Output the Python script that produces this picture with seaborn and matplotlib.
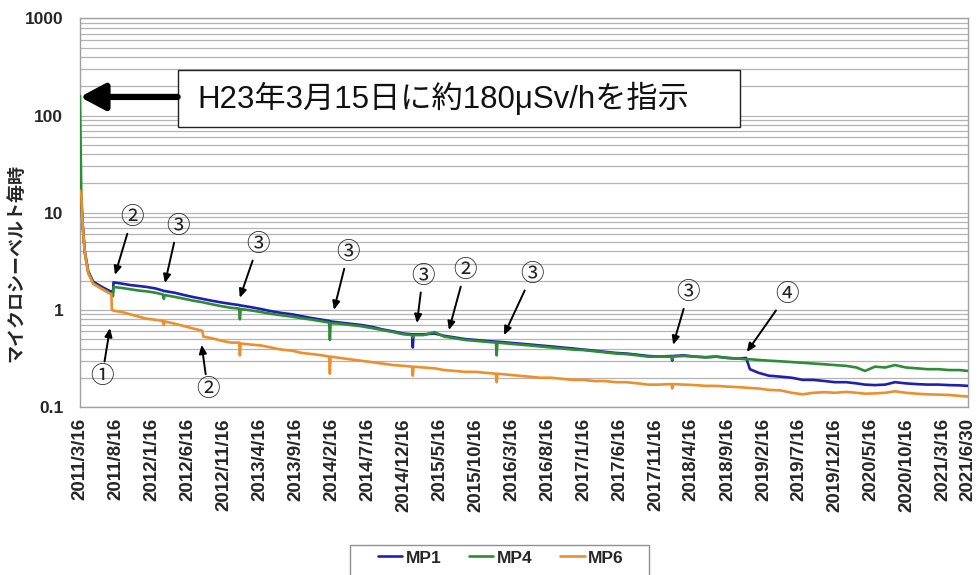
import pandas as pd
import numpy as np
import matplotlib
matplotlib.use("Agg")
import matplotlib.pyplot as plt
from matplotlib.patches import Rectangle
from matplotlib.ticker import LogLocator, NullFormatter
import seaborn as sns

# Set plot style
sns.set_theme(style="white")
plt.rcParams['font.family'] = ['Liberation Sans', 'Noto Sans CJK JP']
plt.rcParams['axes.unicode_minus'] = False

# --- data (μSv/h) ---
dates = [
    "2011-03-16", "2011-03-22", "2011-03-26", "2011-03-30", "2011-04-06", "2011-04-20",
    "2011-05-11", "2011-06-21", "2011-07-21", "2011-07-27", "2011-07-29", "2011-08-03",
    "2011-08-05", "2011-09-10", "2011-10-15", "2011-11-20", "2011-12-24", "2012-01-30",
    "2012-03-01", "2012-03-05", "2012-03-09",
    "2012-04-20", "2012-05-30", "2012-07-10", "2012-08-14", "2012-08-20", "2012-09-25",
    "2012-11-05", "2012-12-15", "2013-01-18", "2013-01-21", "2013-01-24",
    "2013-03-05", "2013-04-20", "2013-06-01", "2013-07-15", "2013-08-30", "2013-10-10",
    "2013-11-25", "2014-01-05", "2014-02-03", "2014-02-06", "2014-02-09",
    "2014-03-20", "2014-05-01", "2014-06-15", "2014-08-01", "2014-09-15", "2014-11-01",
    "2014-12-15", "2015-01-20", "2015-01-23", "2015-01-26",
    "2015-03-10", "2015-04-25", "2015-06-05", "2015-07-20", "2015-09-01", "2015-10-15",
    "2015-11-25", "2016-01-10", "2016-01-13", "2016-01-16",
    "2016-03-01", "2016-04-15", "2016-06-01", "2016-07-15", "2016-09-01", "2016-10-15",
    "2016-12-01", "2017-01-15", "2017-03-01", "2017-04-15", "2017-06-01", "2017-07-15",
    "2017-09-01", "2017-10-15", "2017-12-01",
    "2018-01-22", "2018-01-25", "2018-01-28", "2018-03-15", "2018-05-01", "2018-06-15",
    "2018-08-01", "2018-09-15", "2018-11-01", "2018-12-04", "2018-12-20",
    "2019-01-25", "2019-03-10", "2019-05-01", "2019-06-15", "2019-08-01", "2019-09-15",
    "2019-11-01", "2019-12-15",
    "2020-02-01", "2020-03-15", "2020-04-20", "2020-06-01", "2020-07-15", "2020-08-25",
    "2020-10-10", "2020-11-25", "2021-01-10", "2021-02-25", "2021-04-10", "2021-05-25",
    "2021-06-30",
]

mp1 = [
    17, 14, 8.5, 6.3, 3.9, 2.5, 1.95, 1.70, 1.56, 1.54, 1.53, 1.53,
    1.92, 1.86, 1.80, 1.76, 1.72, 1.66, 1.58, 1.56, 1.56,
    1.50, 1.42, 1.35, 1.30, 1.29, 1.24, 1.19, 1.15, 1.12, 1.11, 1.11,
    1.07, 1.02, 0.97, 0.93, 0.90, 0.86, 0.82, 0.79, 0.77, 0.76, 0.76,
    0.74, 0.72, 0.70, 0.67, 0.63, 0.60, 0.57, 0.56, 0.41, 0.56,
    0.56, 0.57, 0.54, 0.52, 0.50, 0.49, 0.48, 0.47, 0.46, 0.47,
    0.46, 0.45, 0.44, 0.43, 0.42, 0.41, 0.40, 0.39, 0.38, 0.37, 0.36, 0.355, 0.345, 0.335, 0.33,
    0.335, 0.30, 0.335, 0.34, 0.33, 0.325, 0.33, 0.32, 0.315, 0.32, 0.245,
    0.225, 0.21, 0.205, 0.20, 0.19, 0.19, 0.185, 0.18,
    0.18, 0.175, 0.17, 0.168, 0.17, 0.18, 0.175, 0.172, 0.17, 0.17, 0.168, 0.167, 0.165,
]

mp4 = [
    160, 13, 8.2, 6.0, 3.8, 2.4, 1.88, 1.63, 1.49, 1.47, 1.46, 1.38,
    1.72, 1.68, 1.63, 1.58, 1.55, 1.50, 1.44, 1.30, 1.42,
    1.36, 1.30, 1.24, 1.20, 1.19, 1.14, 1.09, 1.05, 1.03, 0.80, 1.02,
    0.99, 0.95, 0.91, 0.88, 0.85, 0.82, 0.79, 0.76, 0.74, 0.49, 0.73,
    0.72, 0.70, 0.68, 0.65, 0.62, 0.59, 0.56, 0.55, 0.52, 0.55,
    0.55, 0.59, 0.53, 0.51, 0.49, 0.48, 0.47, 0.46, 0.34, 0.46,
    0.45, 0.44, 0.43, 0.42, 0.41, 0.40, 0.39, 0.385, 0.375, 0.365, 0.355, 0.35, 0.34, 0.33, 0.33,
    0.33, 0.31, 0.33, 0.335, 0.33, 0.325, 0.33, 0.32, 0.315, 0.31, 0.31,
    0.305, 0.30, 0.295, 0.29, 0.285, 0.28, 0.275, 0.27,
    0.265, 0.255, 0.235, 0.26, 0.255, 0.27, 0.255, 0.25, 0.245, 0.245, 0.24, 0.24, 0.235,
]

mp6 = [
    17, 15, 8.3, 6.1, 3.8, 2.4, 1.85, 1.62, 1.47, 1.45, 1.0, 0.99,
    0.98, 0.95, 0.90, 0.85, 0.81, 0.79, 0.77, 0.70, 0.76,
    0.72, 0.68, 0.64, 0.61, 0.53, 0.51, 0.48, 0.46, 0.46, 0.34, 0.45,
    0.44, 0.43, 0.41, 0.39, 0.38, 0.36, 0.35, 0.34, 0.33, 0.22, 0.33,
    0.32, 0.31, 0.30, 0.29, 0.28, 0.27, 0.265, 0.26, 0.21, 0.26,
    0.255, 0.25, 0.24, 0.235, 0.23, 0.23, 0.225, 0.22, 0.18, 0.22,
    0.215, 0.21, 0.205, 0.20, 0.20, 0.195, 0.19, 0.19, 0.185, 0.185, 0.18, 0.18, 0.175, 0.17, 0.17,
    0.172, 0.155, 0.172, 0.17, 0.168, 0.165, 0.165, 0.162, 0.16, 0.158, 0.157,
    0.155, 0.15, 0.148, 0.14, 0.135, 0.14, 0.142, 0.14,
    0.143, 0.14, 0.137, 0.138, 0.14, 0.145, 0.14, 0.137, 0.135, 0.134, 0.133, 0.13, 0.128,
]

series_names = ["MP1", "MP4", "MP6"]
series_colors = ["#1f1fb4", "#2e8b36", "#ec8f2c"]

xtick_labels = [
    "2011/3/16", "2011/8/16", "2012/1/16", "2012/6/16", "2012/11/16", "2013/4/16",
    "2013/9/16", "2014/2/16", "2014/7/16", "2014/12/16", "2015/5/16", "2015/10/16",
    "2016/3/16", "2016/8/16", "2017/1/16", "2017/6/16", "2017/11/16", "2018/4/16",
    "2018/9/16", "2019/2/16", "2019/7/16", "2019/12/16", "2020/5/16", "2020/10/16",
    "2021/3/16", "2021/6/30",
]
ytick_labels = ["0.1", "1", "10", "100", "1000"]

ylabel = "マイクロシーベルト毎時"
note_text = "H23年3月15日に約180μSv/hを指示"

# circled markers: label, text pos, arrow tip (axes fraction)
markers = [
    ("②", (0.0586, 0.486), (0.0394, 0.340)),
    ("③", (0.110, 0.463), (0.0957, 0.319)),
    ("③", (0.2005, 0.417), (0.180, 0.281)),
    ("①", (0.0248, 0.077), (0.0338, 0.203)),
    ("②", (0.144, 0.044), (0.137, 0.160)),
    ("③", (0.302, 0.396), (0.286, 0.250)),
    ("③", (0.386, 0.335), (0.3795, 0.216)),
    ("②", (0.4336, 0.350), (0.4155, 0.198)),
    ("③", (0.509, 0.340), (0.4775, 0.185)),
    ("③", (0.685, 0.293), (0.668, 0.160)),
    ("④", (0.796, 0.288), (0.751, 0.1416)),
]


def main():
    df = pd.DataFrame({"date": pd.to_datetime(dates), "MP1": mp1, "MP4": mp4, "MP6": mp6})
    long_df = df.melt(id_vars="date", var_name="series", value_name="value")

    fig = plt.figure(figsize=(9.8, 5.75), dpi=100)
    ax = fig.add_axes([0.0816, 0.2922, 0.9061, 0.6757])

    sns.lineplot(data=long_df, x="date", y="value", hue="series",
                 hue_order=series_names, palette=series_colors,
                 estimator=None, linewidth=1.9, ax=ax)
    for line in ax.lines:
        line.set_zorder(3)

    ax.set_yscale("log")
    ax.set_ylim(0.1, 1000)
    ax.set_xlim(pd.Timestamp("2011-03-16"), pd.Timestamp("2021-06-30"))

    # y ticks
    ax.set_yticks([float(t) for t in ytick_labels])
    ax.set_yticklabels(ytick_labels, fontsize=12.5, fontweight="bold")
    ax.yaxis.set_minor_locator(LogLocator(base=10, subs=np.arange(2, 10)))
    ax.yaxis.set_minor_formatter(NullFormatter())
    ax.tick_params(axis="y", which="both", length=0, pad=12)

    # x ticks
    xticks = pd.to_datetime(xtick_labels, format="%Y/%m/%d")
    ax.set_xticks(xticks)
    ax.set_xticklabels(xtick_labels, rotation=90, fontsize=13.5, fontweight="bold")
    ax.tick_params(axis="x", direction="in", length=4, width=1, color="#909090", pad=8)

    # grid: horizontal only
    ax.grid(False)
    ax.yaxis.grid(True, which="both", color="#b4b4b4", linewidth=0.9)
    ax.set_axisbelow(True)
    for side in ["left", "right", "top", "bottom"]:
        ax.spines[side].set_visible(True)
        ax.spines[side].set_color("#a0a0a0")
        ax.spines[side].set_linewidth(1.0)
        ax.spines[side].set_zorder(2)

    ax.set_xlabel("")
    ax.set_ylabel(ylabel, fontsize=13, fontweight="bold")
    ax.yaxis.set_label_coords(-0.061, 0.37)

    # note box with big arrow
    ax.add_patch(Rectangle((0.1104, 0.7207), 0.633, 0.1467, transform=ax.transAxes,
                           facecolor="white", edgecolor="#202020", linewidth=1.0, zorder=5))
    ax.text(0.1318, 0.794, note_text, transform=ax.transAxes, fontsize=22.5,
            ha="left", va="center", color="#111111", zorder=6)
    ax.annotate("", xy=(0.0, 0.798), xycoords="axes fraction",
                xytext=(0.110, 0.798), textcoords="axes fraction",
                arrowprops=dict(arrowstyle="-|>,head_length=0.75,head_width=0.4",
                                color="black", lw=4.5, mutation_scale=20,
                                shrinkA=0, shrinkB=0), zorder=6)

    # circled event markers
    for label, txt, tip in markers:
        ax.annotate(label, xy=tip, xycoords="axes fraction",
                    xytext=txt, textcoords="axes fraction",
                    ha="center", va="center", fontsize=17, color="#222222",
                    arrowprops=dict(arrowstyle="-|>,head_length=0.5,head_width=0.22",
                                    color="black", lw=1.4, mutation_scale=10,
                                    shrinkA=1, shrinkB=0))

    # legend at the bottom (frame drawn separately, it runs off the bottom edge)
    handles, labels = ax.get_legend_handles_labels()
    ax.get_legend().remove()
    fig.legend(handles, labels, loc="center", bbox_to_anchor=(0.511, 0.0296),
               ncol=3, frameon=False, handlelength=1.4, handletextpad=0.2,
               columnspacing=1.6, prop={"size": 12.5, "weight": "bold"})
    fig.patches.append(Rectangle((350 / 980, -0.01), 299 / 980, 0.0522 + 0.01,
                                 transform=fig.transFigure, fill=False,
                                 edgecolor="#909090", linewidth=1.0))

    fig.savefig("out.png", dpi=100, facecolor="white")


if __name__ == "__main__":
    main()
